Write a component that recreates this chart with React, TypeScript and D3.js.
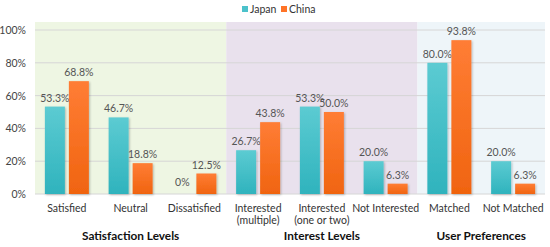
import React from "react";
import * as d3 from "d3";

const categories = ["Satisfied", "Neutral", "Dissatisfied", "Interested (multiple)", "Interested (one or two)", "Not Interested", "Matched", "Not Matched"];
const categoryLines = [["Satisfied"], ["Neutral"], ["Dissatisfied"], ["Interested", "(multiple)"], ["Interested", "(one or two)"], ["Not Interested"], ["Matched"], ["Not Matched"]];
const series = ["Japan", "China"];
const japan = [53.3, 46.7, 0, 26.7, 53.3, 20.0, 80.0, 20.0];
const china = [68.8, 18.8, 12.5, 43.8, 50.0, 6.3, 93.8, 6.3];
const japanLabels = ["53.3%", "46.7%", "0%", "26.7%", "53.3%", "20.0%", "80.0%", "20.0%"];
const chinaLabels = ["68.8%", "18.8%", "12.5%", "43.8%", "50.0%", "6.3%", "93.8%", "6.3%"];
const groups = [
  { name: "Satisfaction Levels", start: 0, end: 2, fill: "#eef6e3" },
  { name: "Interest Levels", start: 3, end: 5, fill: "#e9e1ed" },
  { name: "User Preferences", start: 6, end: 7, fill: "#eef5f9" },
];
const yTicks = [0, 20, 40, 60, 80, 100];

const W = 550, H = 247;
const left = 35, right = 545, top = 22, baseline = 194;

export default function App() {
  const x = d3.scaleBand<string>().domain(categories).range([left, right]).padding(0);
  const y = d3.scaleLinear().domain([0, 100]).range([baseline, 30]);
  const bw = 20, gap = 4;
  const colors: Record<string, string> = { Japan: "#4cc2cb", China: "#ff7327" };
  const font = "Lato, 'Noto Sans', sans-serif";
  const data = [japan, china];
  const labels = [japanLabels, chinaLabels];

  return (
    <svg width={W} height={H} style={{ position: "absolute", left: 0, top: 0, background: "#fff" }} fontFamily={font}>
      <defs>
        <linearGradient id="gJ" x1="0" y1="0" x2="0" y2="1">
          <stop offset="0" stopColor="#5ccbd2" />
          <stop offset="1" stopColor="#2fb3bd" />
        </linearGradient>
        <linearGradient id="gC" x1="0" y1="0" x2="0" y2="1">
          <stop offset="0" stopColor="#ff7d35" />
          <stop offset="1" stopColor="#f06410" />
        </linearGradient>
        <filter id="sh" x="-30%" y="-10%" width="160%" height="130%">
          <feDropShadow dx="1" dy="1" stdDeviation="1" floodColor="#000" floodOpacity="0.25" />
        </filter>
      </defs>
      {groups.map((g) => {
        const x0 = x(categories[g.start])!;
        const x1 = x(categories[g.end])! + x.bandwidth();
        return <rect key={g.name} x={x0} y={top} width={x1 - x0} height={baseline - top} fill={g.fill} />;
      })}
      {yTicks.map((t) => (
        <g key={t}>
          <line x1={left} x2={right} y1={y(t)} y2={y(t)} stroke="#d6d6d6" strokeWidth={1} />
          <text x={26} y={y(t) + 4} textAnchor="end" fontSize={10.5} fill="#444">{t}%</text>
        </g>
      ))}
      {categories.map((c, i) => {
        const cx = x(c)! + x.bandwidth() / 2;
        return (
          <g key={c}>
            {series.map((s, si) => {
              const v = data[si][i];
              const bx = cx + (si === 0 ? -(bw + gap / 2) : gap / 2);
              return (
                <g key={s}>
                  {v > 0 && (
                    <rect x={bx} y={y(v)} width={bw} height={baseline - y(v)} fill={si === 0 ? "url(#gJ)" : "url(#gC)"} filter="url(#sh)" />
                  )}
                  <text x={bx + bw / 2} y={y(v) - (v === 0 ? 8 : 5)} textAnchor="middle" fontSize={10.5} fill="#555">{labels[si][i]}</text>
                </g>
              );
            })}
            {categoryLines[i].map((ln, li) => (
              <text key={li} x={cx} y={212 + li * 12} textAnchor="middle" fontSize={10.5} fill="#333">{ln}</text>
            ))}
          </g>
        );
      })}
      {groups.map((g) => {
        const x0 = x(categories[g.start])!;
        const x1 = x(categories[g.end])! + x.bandwidth();
        return (
          <text key={g.name} x={(x0 + x1) / 2} y={240} textAnchor="middle" fontSize={11.8} fontWeight="bold" fill="#111">{g.name}</text>
        );
      })}
      <g>
        <rect x={242} y={6} width={6} height={6} fill={colors.Japan} />
        <text x={250} y={13} fontSize={10.5} fill="#333">Japan</text>
        <rect x={281} y={6} width={6} height={6} fill={colors.China} />
        <text x={289} y={13} fontSize={10.5} fill="#333">China</text>
      </g>
    </svg>
  );
}
